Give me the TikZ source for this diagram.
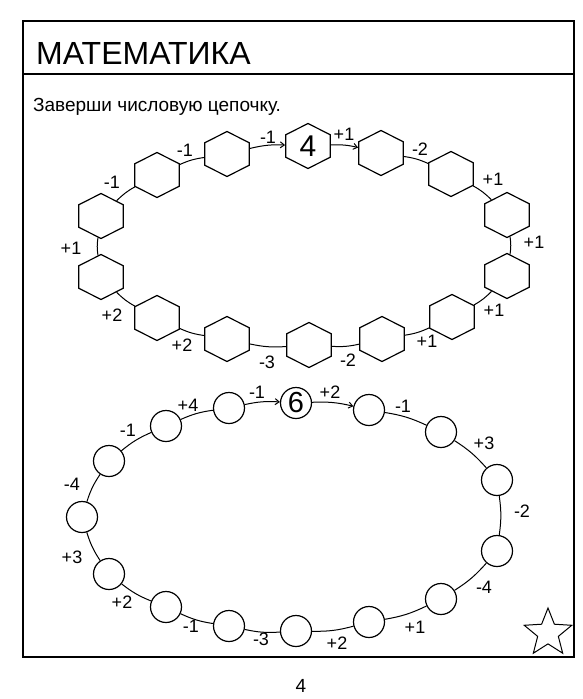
\documentclass[tikz,border=0pt]{standalone}
\usepackage{fontspec}
\setmainfont{Liberation Sans}
\usepackage{graphicx}
\usetikzlibrary{arrows.meta,shapes.geometric,positioning}

\begin{document}
\begin{tikzpicture}[x=1pt, y=-1pt,
        hexcell/.style={draw, fill=white, line width=1.2pt, regular polygon, regular polygon sides=6, shape border rotate=90, minimum size=45pt, inner sep=0pt, xscale=1.14, font=\fontsize{30}{30}\selectfont},
        ringcell/.style={draw, fill=white, line width=1.2pt, circle, minimum size=31pt, inner sep=0pt, font=\fontsize{29}{29}\selectfont},
        link/.style={line width=1pt, bend left=8},
        linkarrow/.style={link, -{Straight Barb[length=4pt, width=6pt]}},
        steplabel/.style={font=\fontsize{18}{18}\selectfont, inner sep=0pt}
    ]
        \useasboundingbox (0,0) rectangle (582,699);

        % page frame and heading
        \draw[line width=1.4pt] (23,21) rectangle (574,657);
        \draw[line width=1.4pt] (23,74) -- (574,74);
        \node[anchor=base west, inner sep=0pt, font=\fontsize{32}{32}\selectfont] (title) at (36,64) {МАТЕМАТИКА};
        \node[anchor=base west, inner sep=0pt, font=\fontsize{19}{19}\selectfont] (task) at (33,111) {Заверши числовую цепочку.};

        % hexagon chain
        \node[hexcell] (h0) at (308,146) {\scalebox{0.877}[1]{4}};
        \node[hexcell] (h1) at (381,153) {};
        \node[hexcell] (h2) at (451,174) {};
        \node[hexcell] (h3) at (507,215) {};
        \node[hexcell] (h4) at (507,276) {};
        \node[hexcell] (h5) at (452,317) {};
        \node[hexcell] (h6) at (382,339) {};
        \node[hexcell] (h7) at (309,345) {};
        \node[hexcell] (h8) at (227,339) {};
        \node[hexcell] (h9) at (157,318) {};
        \node[hexcell] (h10) at (101,277) {};
        \node[hexcell] (h11) at (101,216) {};
        \node[hexcell] (h12) at (157,175) {};
        \node[hexcell] (h13) at (227,154) {};

        \draw[linkarrow] (h13) to (h0);
        \draw[linkarrow] (h0) to (h1);
        \draw[link] (h1) to (h2);
        \draw[link] (h2) to (h3);
        \draw[link] (h3) to (h4);
        \draw[link] (h4) to (h5);
        \draw[link] (h5) to (h6);
        \draw[link] (h6) to (h7);
        \draw[link] (h7) to (h8);
        \draw[link] (h8) to (h9);
        \draw[link] (h9) to (h10);
        \draw[link] (h10) to (h11);
        \draw[link] (h11) to (h12);
        \draw[link] (h12) to (h13);

        \node[steplabel] (t1) at (344,134) {+1};
        \node[steplabel] (t2) at (420,149) {-2};
        \node[steplabel] (t3) at (493,179) {+1};
        \node[steplabel] (t4) at (534,242) {+1};
        \node[steplabel] (t5) at (494,310) {+1};
        \node[steplabel] (t6) at (427,341) {+1};
        \node[steplabel] (t7) at (348,360) {-2};
        \node[steplabel] (t8) at (267,362) {-3};
        \node[steplabel] (t9) at (182,345) {+2};
        \node[steplabel] (t10) at (112,315) {+2};
        \node[steplabel] (t11) at (71,248) {+1};
        \node[steplabel] (t12) at (112,182) {-1};
        \node[steplabel] (t13) at (185,150) {-1};
        \node[steplabel] (t14) at (268,137) {-1};

        % circle chain
        \node[ringcell] (c0) at (296,403) {6};
        \node[ringcell] (c1) at (369,410) {};
        \node[ringcell] (c2) at (441,432) {};
        \node[ringcell] (c3) at (497,480) {};
        \node[ringcell] (c4) at (497,551) {};
        \node[ringcell] (c5) at (441,599) {};
        \node[ringcell] (c6) at (369,622) {};
        \node[ringcell] (c7) at (296,631) {};
        \node[ringcell] (c8) at (229,626) {};
        \node[ringcell] (c9) at (166,607) {};
        \node[ringcell] (c10) at (109,574) {};
        \node[ringcell] (c11) at (82,517) {};
        \node[ringcell] (c12) at (109,461) {};
        \node[ringcell] (c13) at (166,426) {};
        \node[ringcell] (c14) at (229,408) {};

        \draw[linkarrow] (c14) to (c0);
        \draw[linkarrow] (c0) to (c1);
        \draw[link] (c1) to (c2);
        \draw[link] (c2) to (c3);
        \draw[link] (c3) to (c4);
        \draw[link] (c4) to (c5);
        \draw[link] (c5) to (c6);
        \draw[link] (c6) to (c7);
        \draw[link] (c7) to (c8);
        \draw[link] (c8) to (c9);
        \draw[link] (c9) to (c10);
        \draw[link] (c10) to (c11);
        \draw[link] (c11) to (c12);
        \draw[link] (c12) to (c13);
        \draw[link] (c13) to (c14);

        \node[steplabel] (r1) at (330,392) {+2};
        \node[steplabel] (r2) at (403,406) {-1};
        \node[steplabel] (r3) at (484,443) {+3};
        \node[steplabel] (r4) at (522,511) {-2};
        \node[steplabel] (r5) at (484,587) {-4};
        \node[steplabel] (r6) at (415,627) {+1};
        \node[steplabel] (r7) at (337,643) {+2};
        \node[steplabel] (r8) at (261,639) {-3};
        \node[steplabel] (r9) at (191,626) {-1};
        \node[steplabel] (r10) at (122,602) {+2};
        \node[steplabel] (r11) at (72,557) {+3};
        \node[steplabel] (r12) at (72,484) {-4};
        \node[steplabel] (r13) at (128,430) {-1};
        \node[steplabel] (r14) at (188,405) {+4};
        \node[steplabel] (r15) at (257,392) {-1};

        % corner star and page number
        \node[draw, star, star points=5, star point ratio=2.3, minimum size=50pt, inner sep=0pt, line width=1pt] (corner) at (548,633) {};
        \node[font=\fontsize{19}{19}\selectfont, inner sep=0pt] (pagenum) at (301,686) {4};
    \end{tikzpicture}
\end{document}
